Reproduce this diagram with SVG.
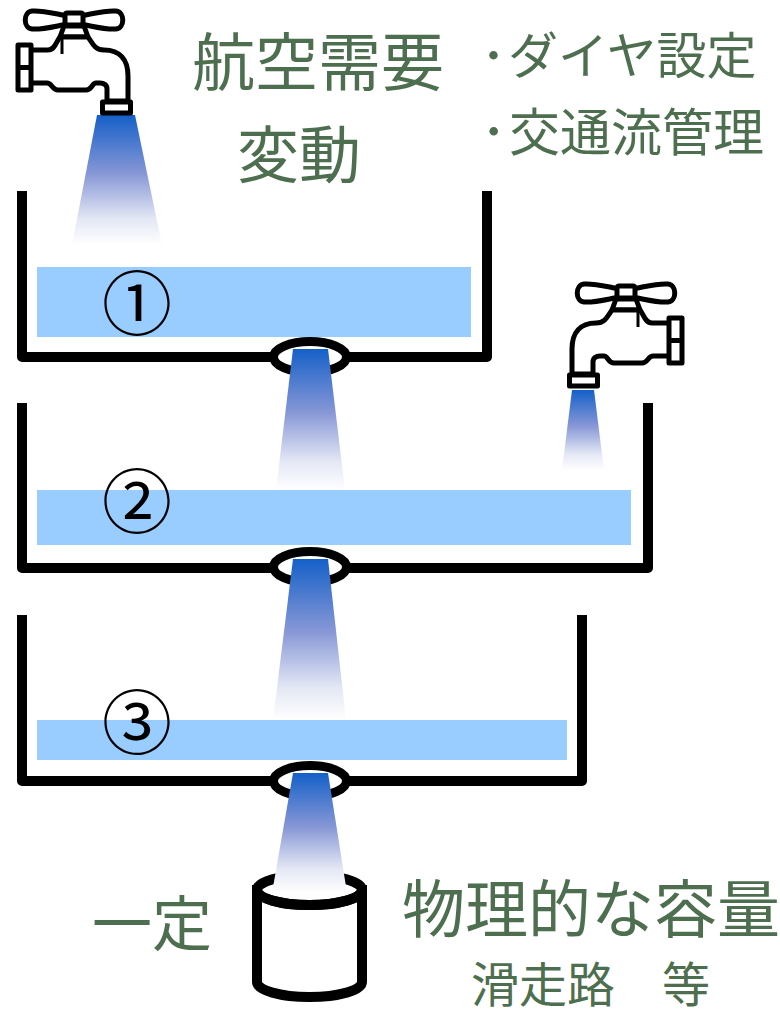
<svg xmlns="http://www.w3.org/2000/svg" xmlns:xlink="http://www.w3.org/1999/xlink" width="780" height="1016" viewBox="0 0 780 1016">
  <style>
    .wall { fill: none; stroke: #000; stroke-width: 10; stroke-linejoin: round; stroke-linecap: butt; }
    .water { fill: #99ccff; }
    .ring { fill: #fff; stroke: #000; stroke-width: 9; }
    .spray { fill: url(#sprayGrad); }
    .tapline { fill: #fff; stroke: #000; stroke-width: 5; stroke-linejoin: round; }
    .label { font-family: "Noto Sans CJK JP", "Noto Sans", sans-serif; fill: #4e6f4f; }
    .num { font-family: "Noto Sans CJK JP", "DejaVu Sans", sans-serif; fill: #000; font-size: 70px; }
    .cyl { fill: #fff; stroke: #000; stroke-width: 10; }
  </style>
  <defs>
    <linearGradient id="sprayGrad" x1="0" y1="0" x2="0" y2="1">
      <stop offset="0" stop-color="#1560c8"/>
      <stop offset="0.45" stop-color="#8797d6"/>
      <stop offset="0.8" stop-color="#e4e8f5"/>
      <stop offset="1" stop-color="#ffffff"/>
    </linearGradient>
    <!-- water tap, flange on the left, spout pointing down on the right -->
    <g id="tap">
      <!-- handle -->
      <path class="tapline" d="M68,16 C56,14 42,10 32,11 C23,12 23,28 32,29 C42,30 56,26 68,24 Z"/>
      <path class="tapline" d="M80,16 C92,14 106,10 116,11 C125,12 125,28 116,29 C106,30 92,26 80,24 Z"/>
      <rect class="tapline" x="65" y="13" width="18" height="12" rx="2"/>
      <path class="tapline" d="M60,37 L64,26 L84,26 L88,37 Z"/>
      <!-- body and spout -->
      <path class="tapline" d="M32,50 L48,50 C55,50 56,42 60,37 L88,37 C92,42 94,50 104,50 C120,50 128,60 128,76 L128,101 L107,101 L107,89 C107,85 104,83 100,83 L96,83 C92,83 92,90 86,90 L58,90 C52,90 52,83 47,83 L32,83"/>
      <line x1="62" y1="38" x2="62" y2="54" stroke="#000" stroke-width="3"/>
      <!-- wall flange -->
      <rect class="tapline" x="18" y="45" width="13" height="45"/>
      <line x1="18" y1="67.5" x2="31" y2="67.5" stroke="#000" stroke-width="5"/>
      <!-- nozzle -->
      <rect class="tapline" x="102.5" y="102" width="28" height="11"/>
    </g>
  </defs>

  <rect width="780" height="1016" fill="#fff"/>

  <!-- tank 1 -->
  <g id="tank1">
    <rect class="water" x="37" y="267" width="434" height="70"/>
    <path class="wall" d="M22,191 L22,357 L487,357 L487,191"/>
    <text class="num" x="102" y="330">①</text>
  </g>

  <!-- tank 2 -->
  <g id="tank2">
    <rect class="water" x="37" y="490" width="594" height="55"/>
    <path class="wall" d="M22,403 L22,568 L648,568 L648,403"/>
    <text class="num" x="102" y="528">②</text>
  </g>

  <!-- tank 3 -->
  <g id="tank3">
    <rect class="water" x="37" y="720" width="530" height="40"/>
    <path class="wall" d="M22,615 L22,781 L582,781 L582,615"/>
    <text class="num" x="102" y="749">③</text>
  </g>

  <!-- outlets with their flows -->
  <g id="flows">
    <ellipse class="ring" cx="310" cy="357" rx="36.5" ry="15.5"/>
    <ellipse class="ring" cx="310" cy="567" rx="36.5" ry="15.5"/>
    <ellipse class="ring" cx="310" cy="781" rx="36.5" ry="15.5"/>
    <polygon class="spray" points="97,115 135,115 162,245 72,245"/>
    <polygon class="spray" points="572,390 594,390 604,470 562,470"/>
    <polygon class="spray" points="293,349 328,349 345,490 276,490"/>
    <polygon class="spray" points="293,559 328,559 346,720 273,720"/>
  </g>

  <!-- supply taps -->
  <g id="tap-main">
    <use xlink:href="#tap" href="#tap"/>
  </g>
  <g id="tap-side">
    <use xlink:href="#tap" href="#tap" transform="translate(700,273) scale(-1,1)"/>
  </g>

  <!-- fixed-capacity bucket -->
  <g id="bucket">
    <path class="cyl" d="M257,890 L257,982 A52.5,15 0 0 0 362,982 L362,890 Z"/>
    <ellipse class="cyl" cx="309.5" cy="890" rx="52.5" ry="15"/>
    <polygon class="spray" points="293,773 328,773 347,893 272,893"/>
    <path d="M257,890 A52.5,15 0 0 0 362,890" fill="none" stroke="#000" stroke-width="10"/>
  </g>

  <!-- labels -->
  <g id="labels">
    <text class="label" x="192" y="85" font-size="63">航空需要</text>
    <text class="label" x="237" y="178" font-size="62">変動</text>
    <text class="label" x="481" y="74" font-size="50">･</text>
    <text class="label" x="508" y="74" font-size="50">ダイヤ設定</text>
    <text class="label" x="481" y="151" font-size="51">･</text>
    <text class="label" x="509" y="151" font-size="51">交通流管理</text>
    <text class="label" x="92" y="946" font-size="60">一定</text>
    <text class="label" x="402" y="932" font-size="63">物理的な容量</text>
    <text class="label" x="471" y="1002" font-size="48">滑走路</text>
    <text class="label" x="662" y="1002" font-size="48">等</text>
  </g>
</svg>
